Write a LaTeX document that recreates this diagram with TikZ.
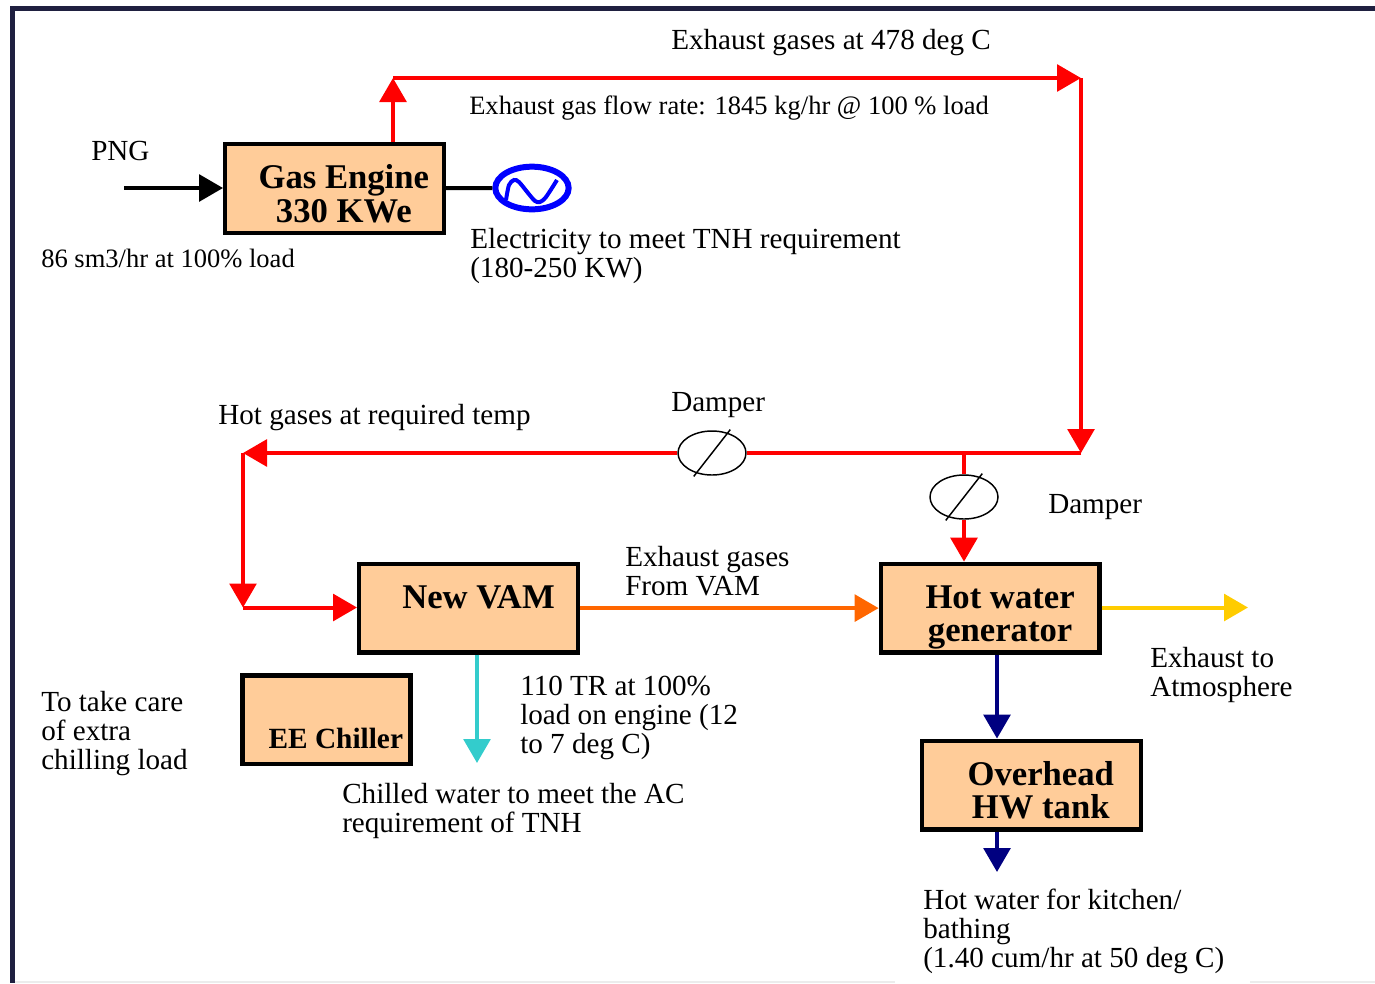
\documentclass[tikz,border=0pt]{standalone}
\usepackage{fontspec}
\setmainfont{Liberation Serif}
\usetikzlibrary{positioning, arrows.meta, shapes.geometric}
\definecolor{framenavy}{HTML}{1F2040}
\definecolor{boxfill}{HTML}{FFCC99}
\definecolor{exhaustorange}{HTML}{FF6600}
\definecolor{ventyellow}{HTML}{FFCC00}
\definecolor{chilledcyan}{HTML}{33CCCC}
\definecolor{hotnavy}{HTML}{000080}

\begin{document}
\begin{tikzpicture}[
        x=0.75pt, y=-0.75pt,
        unit/.style={rectangle, draw=black, fill=boxfill, line width=3.2pt, minimum width=164pt, minimum height=66.5pt, inner sep=0pt, align=center, font=\fontsize{26}{25}\selectfont\bfseries},
        damper/.style={ellipse, draw=black, fill=white, line width=1.1pt, minimum width=51pt, minimum height=33pt, inner sep=0pt},
        note/.style={anchor=west, inner sep=0pt, align=left, font=\fontsize{21.85}{21.75}\selectfont},
        smallnote/.style={note, font=\fontsize{19.9}{20}\selectfont},
        flow/.style={-{Triangle[width=20pt,length=18pt]}, line width=3pt},
        pipe/.style={line width=3pt, red}
    ]
        \useasboundingbox (0,0) rectangle (1375,983);

        % Frame
        \fill[framenavy] (10,6) rectangle (1375,11);
        \fill[framenavy] (10,6) rectangle (15,983);
        \fill[gray!15] (15,981) rectangle (895,983);
        \fill[gray!15] (1250,981) rectangle (1375,983);

        % Units
        \node[unit, text height=51pt] (engine) at (334.5,188.5) {\hspace*{14pt}Gas Engine\\\hspace*{14pt}330 KWe};
        \node[unit, text height=51pt, below=245pt of engine, xshift=100.5pt] (vam) {\hspace*{15pt}New VAM\\\mbox{}};
        \node[unit, text height=56.5pt, right=224pt of vam] (hotwater) {\hspace*{15pt}Hot water\\\hspace*{15pt}generator};
        \node[unit, text height=51pt, below=63pt of hotwater, xshift=31pt] (tank) {\hspace*{14pt}Overhead\\\hspace*{14pt}HW tank};
        \node[unit, minimum width=126pt, text height=43.5pt, font=\fontsize{22}{25}\selectfont\bfseries, below=14pt of vam, xshift=-106.5pt] (chiller) {\mbox{}\\\hspace*{14pt}EE Chiller};

        % Generator
        \node[ellipse, draw=blue, line width=4.5pt, minimum width=55pt, minimum height=32pt, inner sep=0pt] (gen) at (532,188) {};
        \draw[line width=3pt, blue, shift={(gen.center)}] plot[smooth] coordinates {(-26,12) (-23,-3) (-18,-8) (-13,-6) (-4,5) (3,13) (8,14) (14,9) (25,-8)};
        \draw[line width=3pt] (engine) -- (gen);

        % Fuel in
        \coordinate (pnginlet) at (124,188);
        \draw[flow] (pnginlet) -- (engine.west |- pnginlet);

        % Exhaust gas path
        \coordinate (stack) at (393,78);
        \coordinate (topright) at (1081,78);
        \coordinate (midright) at (1081,453);
        \coordinate (midleft) at (243,453);
        \coordinate (lowleft) at (243,607.5);
        \coordinate (tee) at (964,453);
        \node[damper] (damperA) at (712,453) {};
        \node[damper] (damperB) at (964,497) {};
        \draw[flow, red] (stack |- engine.north) -- (stack);
        \draw[flow, red] (stack) -- (topright);
        \draw[flow, red] (topright) -- (midright);
        \draw[pipe] (midright) -- (damperA);
        \draw[flow, red] (damperA) -- (midleft);
        \draw[flow, red] (midleft) -- (lowleft);
        \draw[flow, red] (lowleft) -- (vam.west |- lowleft);
        \draw[pipe] (tee) -- (damperB);
        \draw[flow, red] (damperB) -- (hotwater.north -| damperB);
        \draw[line width=1.1pt, shorten >=-3pt, shorten <=-3pt] (damperA.232) -- (damperA.52);
        \draw[line width=1.1pt, shorten >=-3pt, shorten <=-3pt] (damperB.232) -- (damperB.52);

        % Other flows
        \coordinate (ventend) at (1248,607.5);
        \coordinate (chilledend) at (477,763);
        \coordinate (hwdrop) at (997,872);
        \draw[flow, exhaustorange] (vam) -- (hotwater);
        \draw[flow, ventyellow] (hotwater.east |- ventend) -- (ventend);
        \draw[flow, chilledcyan] (chilledend |- vam.south) -- (chilledend);
        \draw[flow, hotnavy] (hwdrop |- hotwater.south) -- (hwdrop |- tank.north);
        \draw[flow, hotnavy] (hwdrop |- tank.south) -- (hwdrop);

        % Labels
        \node[note] (lblpng) at (91,151) {PNG};
        \node[smallnote] (lblfuel) at (41,258) {86 sm3/hr at 100\% load};
        \node[note] (lblexhaust) at (671,43) {Exhaust gases at 478 deg C};
        \node[smallnote] (lblrate) at (469,108) {Exhaust gas flow rate: 1845 kg/hr @ 100 \% load};
        \node[note] (lblpower) at (470,256) {Electricity to meet TNH requirement\\(180-250 KW)};
        \node[note] (lblhot) at (218,418) {Hot gases at required temp};
        \node[note] (lbldamperA) at (671,405) {Damper};
        \node[note] (lbldamperB) at (1048,507) {Damper};
        \node[note] (lblfromvam) at (625,571) {Exhaust gases\\From VAM};
        \node[note] (lblvent) at (1150,675) {Exhaust to\\Atmosphere};
        \node[note] (lblextra) at (41,733.5) {To take care\\of extra\\chilling load};
        \node[note] (lbltr) at (520,718) {110 TR at 100\%\\load on engine (12\\to 7 deg C)};
        \node[note] (lblchilled) at (342,811) {Chilled water to meet the AC\\requirement of TNH};
        \node[note] (lblkitchen) at (923,931.5) {Hot water for kitchen/\\bathing\\(1.40 cum/hr at 50 deg C)};
    \end{tikzpicture}
\end{document}
